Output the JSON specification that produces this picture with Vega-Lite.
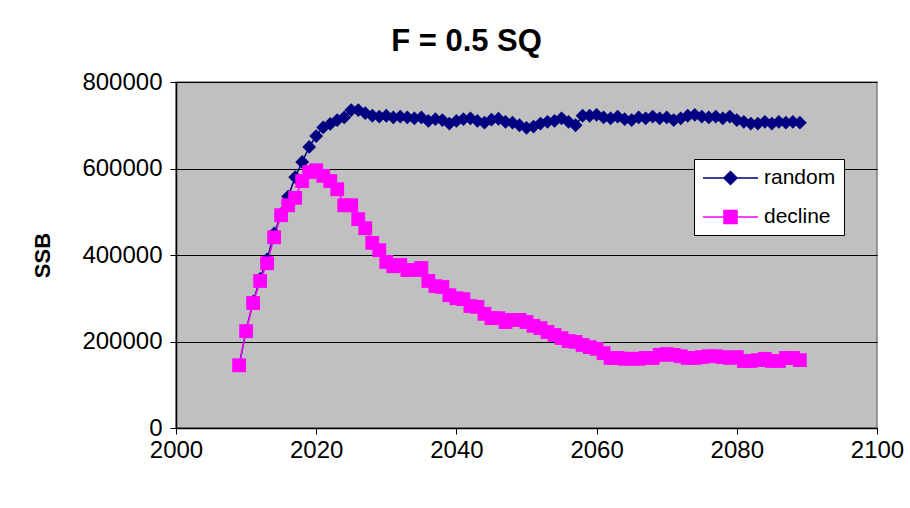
{
  "$schema": "https://vega.github.io/schema/vega-lite/v6.json",
  "width": 701,
  "height": 346,
  "autosize": "none",
  "padding": {"left": 176, "top": 82, "right": 33, "bottom": 80},
  "background": "white",
  "title": {"text": "F = 0.5 SQ", "font": "Liberation Sans", "fontSize": 31, "fontWeight": "bold", "color": "black", "anchor": "middle", "dx": -60, "offset": 12},
  "config": {
    "view": {"fill": "#C0C0C0", "stroke": "#808080", "strokeWidth": 1.5},
    "font": "Liberation Sans"
  },
  "data": {"values": [
    {"year": 2009, "series": "random", "ssb": 145000},
    {"year": 2010, "series": "random", "ssb": 225000},
    {"year": 2011, "series": "random", "ssb": 292000},
    {"year": 2012, "series": "random", "ssb": 345000},
    {"year": 2013, "series": "random", "ssb": 390000},
    {"year": 2014, "series": "random", "ssb": 450000},
    {"year": 2015, "series": "random", "ssb": 495000},
    {"year": 2016, "series": "random", "ssb": 535000},
    {"year": 2017, "series": "random", "ssb": 580000},
    {"year": 2018, "series": "random", "ssb": 615000},
    {"year": 2019, "series": "random", "ssb": 650000},
    {"year": 2020, "series": "random", "ssb": 675000},
    {"year": 2021, "series": "random", "ssb": 695000},
    {"year": 2022, "series": "random", "ssb": 703000},
    {"year": 2023, "series": "random", "ssb": 712000},
    {"year": 2024, "series": "random", "ssb": 718000},
    {"year": 2025, "series": "random", "ssb": 735000},
    {"year": 2026, "series": "random", "ssb": 735000},
    {"year": 2027, "series": "random", "ssb": 728000},
    {"year": 2028, "series": "random", "ssb": 722000},
    {"year": 2029, "series": "random", "ssb": 720000},
    {"year": 2030, "series": "random", "ssb": 722000},
    {"year": 2031, "series": "random", "ssb": 718000},
    {"year": 2032, "series": "random", "ssb": 720000},
    {"year": 2033, "series": "random", "ssb": 718000},
    {"year": 2034, "series": "random", "ssb": 716000},
    {"year": 2035, "series": "random", "ssb": 718000},
    {"year": 2036, "series": "random", "ssb": 710000},
    {"year": 2037, "series": "random", "ssb": 714000},
    {"year": 2038, "series": "random", "ssb": 712000},
    {"year": 2039, "series": "random", "ssb": 704000},
    {"year": 2040, "series": "random", "ssb": 710000},
    {"year": 2041, "series": "random", "ssb": 714000},
    {"year": 2042, "series": "random", "ssb": 716000},
    {"year": 2043, "series": "random", "ssb": 710000},
    {"year": 2044, "series": "random", "ssb": 706000},
    {"year": 2045, "series": "random", "ssb": 713000},
    {"year": 2046, "series": "random", "ssb": 715000},
    {"year": 2047, "series": "random", "ssb": 708000},
    {"year": 2048, "series": "random", "ssb": 706000},
    {"year": 2049, "series": "random", "ssb": 700000},
    {"year": 2050, "series": "random", "ssb": 694000},
    {"year": 2051, "series": "random", "ssb": 697000},
    {"year": 2052, "series": "random", "ssb": 704000},
    {"year": 2053, "series": "random", "ssb": 708000},
    {"year": 2054, "series": "random", "ssb": 710000},
    {"year": 2055, "series": "random", "ssb": 716000},
    {"year": 2056, "series": "random", "ssb": 708000},
    {"year": 2057, "series": "random", "ssb": 700000},
    {"year": 2058, "series": "random", "ssb": 722000},
    {"year": 2059, "series": "random", "ssb": 722000},
    {"year": 2060, "series": "random", "ssb": 724000},
    {"year": 2061, "series": "random", "ssb": 718000},
    {"year": 2062, "series": "random", "ssb": 716000},
    {"year": 2063, "series": "random", "ssb": 720000},
    {"year": 2064, "series": "random", "ssb": 714000},
    {"year": 2065, "series": "random", "ssb": 712000},
    {"year": 2066, "series": "random", "ssb": 718000},
    {"year": 2067, "series": "random", "ssb": 716000},
    {"year": 2068, "series": "random", "ssb": 720000},
    {"year": 2069, "series": "random", "ssb": 716000},
    {"year": 2070, "series": "random", "ssb": 718000},
    {"year": 2071, "series": "random", "ssb": 712000},
    {"year": 2072, "series": "random", "ssb": 716000},
    {"year": 2073, "series": "random", "ssb": 722000},
    {"year": 2074, "series": "random", "ssb": 724000},
    {"year": 2075, "series": "random", "ssb": 720000},
    {"year": 2076, "series": "random", "ssb": 718000},
    {"year": 2077, "series": "random", "ssb": 720000},
    {"year": 2078, "series": "random", "ssb": 716000},
    {"year": 2079, "series": "random", "ssb": 720000},
    {"year": 2080, "series": "random", "ssb": 712000},
    {"year": 2081, "series": "random", "ssb": 708000},
    {"year": 2082, "series": "random", "ssb": 704000},
    {"year": 2083, "series": "random", "ssb": 704000},
    {"year": 2084, "series": "random", "ssb": 708000},
    {"year": 2085, "series": "random", "ssb": 704000},
    {"year": 2086, "series": "random", "ssb": 708000},
    {"year": 2087, "series": "random", "ssb": 706000},
    {"year": 2088, "series": "random", "ssb": 708000},
    {"year": 2089, "series": "random", "ssb": 706000},
    {"year": 2009, "series": "decline", "ssb": 145000},
    {"year": 2010, "series": "decline", "ssb": 224000},
    {"year": 2011, "series": "decline", "ssb": 289000},
    {"year": 2012, "series": "decline", "ssb": 340000},
    {"year": 2013, "series": "decline", "ssb": 381000},
    {"year": 2014, "series": "decline", "ssb": 441000},
    {"year": 2015, "series": "decline", "ssb": 492000},
    {"year": 2016, "series": "decline", "ssb": 515000},
    {"year": 2017, "series": "decline", "ssb": 532000},
    {"year": 2018, "series": "decline", "ssb": 571000},
    {"year": 2019, "series": "decline", "ssb": 592000},
    {"year": 2020, "series": "decline", "ssb": 596000},
    {"year": 2021, "series": "decline", "ssb": 583000},
    {"year": 2022, "series": "decline", "ssb": 571000},
    {"year": 2023, "series": "decline", "ssb": 552000},
    {"year": 2024, "series": "decline", "ssb": 515000},
    {"year": 2025, "series": "decline", "ssb": 515000},
    {"year": 2026, "series": "decline", "ssb": 483000},
    {"year": 2027, "series": "decline", "ssb": 462000},
    {"year": 2028, "series": "decline", "ssb": 428000},
    {"year": 2029, "series": "decline", "ssb": 411000},
    {"year": 2030, "series": "decline", "ssb": 384000},
    {"year": 2031, "series": "decline", "ssb": 374000},
    {"year": 2032, "series": "decline", "ssb": 377000},
    {"year": 2033, "series": "decline", "ssb": 365000},
    {"year": 2034, "series": "decline", "ssb": 365000},
    {"year": 2035, "series": "decline", "ssb": 370000},
    {"year": 2036, "series": "decline", "ssb": 340000},
    {"year": 2037, "series": "decline", "ssb": 328000},
    {"year": 2038, "series": "decline", "ssb": 326000},
    {"year": 2039, "series": "decline", "ssb": 307000},
    {"year": 2040, "series": "decline", "ssb": 300000},
    {"year": 2041, "series": "decline", "ssb": 298000},
    {"year": 2042, "series": "decline", "ssb": 282000},
    {"year": 2043, "series": "decline", "ssb": 280000},
    {"year": 2044, "series": "decline", "ssb": 264000},
    {"year": 2045, "series": "decline", "ssb": 254000},
    {"year": 2046, "series": "decline", "ssb": 254000},
    {"year": 2047, "series": "decline", "ssb": 245000},
    {"year": 2048, "series": "decline", "ssb": 250000},
    {"year": 2049, "series": "decline", "ssb": 250000},
    {"year": 2050, "series": "decline", "ssb": 245000},
    {"year": 2051, "series": "decline", "ssb": 236000},
    {"year": 2052, "series": "decline", "ssb": 231000},
    {"year": 2053, "series": "decline", "ssb": 222000},
    {"year": 2054, "series": "decline", "ssb": 215000},
    {"year": 2055, "series": "decline", "ssb": 208000},
    {"year": 2056, "series": "decline", "ssb": 201000},
    {"year": 2057, "series": "decline", "ssb": 199000},
    {"year": 2058, "series": "decline", "ssb": 192000},
    {"year": 2059, "series": "decline", "ssb": 187000},
    {"year": 2060, "series": "decline", "ssb": 183000},
    {"year": 2061, "series": "decline", "ssb": 173000},
    {"year": 2062, "series": "decline", "ssb": 162000},
    {"year": 2063, "series": "decline", "ssb": 162000},
    {"year": 2064, "series": "decline", "ssb": 160000},
    {"year": 2065, "series": "decline", "ssb": 160000},
    {"year": 2066, "series": "decline", "ssb": 160000},
    {"year": 2067, "series": "decline", "ssb": 162000},
    {"year": 2068, "series": "decline", "ssb": 162000},
    {"year": 2069, "series": "decline", "ssb": 169000},
    {"year": 2070, "series": "decline", "ssb": 171000},
    {"year": 2071, "series": "decline", "ssb": 169000},
    {"year": 2072, "series": "decline", "ssb": 166000},
    {"year": 2073, "series": "decline", "ssb": 162000},
    {"year": 2074, "series": "decline", "ssb": 162000},
    {"year": 2075, "series": "decline", "ssb": 164000},
    {"year": 2076, "series": "decline", "ssb": 166000},
    {"year": 2077, "series": "decline", "ssb": 166000},
    {"year": 2078, "series": "decline", "ssb": 164000},
    {"year": 2079, "series": "decline", "ssb": 162000},
    {"year": 2080, "series": "decline", "ssb": 164000},
    {"year": 2081, "series": "decline", "ssb": 155000},
    {"year": 2082, "series": "decline", "ssb": 155000},
    {"year": 2083, "series": "decline", "ssb": 157000},
    {"year": 2084, "series": "decline", "ssb": 160000},
    {"year": 2085, "series": "decline", "ssb": 155000},
    {"year": 2086, "series": "decline", "ssb": 155000},
    {"year": 2087, "series": "decline", "ssb": 162000},
    {"year": 2088, "series": "decline", "ssb": 162000},
    {"year": 2089, "series": "decline", "ssb": 157000}
  ]},
  "mark": {"type": "line", "strokeWidth": 1.5, "point": {"size": 190, "opacity": 1, "filled": true}},
  "encoding": {
    "x": {"field": "year", "type": "quantitative",
      "scale": {"domain": [2000, 2100], "nice": false, "zero": false},
      "axis": {"title": null, "values": [2000, 2020, 2040, 2060, 2080, 2100], "format": "d", "grid": false, "labelFlush": false,
        "domainColor": "black", "domainWidth": 1.5, "tickColor": "black", "tickSize": 6,
        "labelFontSize": 24, "labelColor": "black", "labelPadding": 4, "labelFont": "Liberation Sans"}},
    "y": {"field": "ssb", "type": "quantitative",
      "scale": {"domain": [0, 800000], "nice": false},
      "axis": {"title": "SSB", "values": [0, 200000, 400000, 600000, 800000], "format": "d",
        "grid": true, "gridColor": "black", "gridWidth": 1, "gridOpacity": 1,
        "domainColor": "black", "domainWidth": 1.5, "tickColor": "black", "tickSize": 6,
        "labelFontSize": 24, "labelColor": "black", "labelPadding": 8, "labelFont": "Liberation Sans",
        "titleFontSize": 22, "titleFontWeight": "bold", "titleColor": "black", "titlePadding": 27, "titleFont": "Liberation Sans"}},
    "color": {"field": "series", "type": "nominal",
      "scale": {"domain": ["random", "decline"], "range": ["#000080", "#FF00FF"]},
      "legend": {"title": null, "orient": "none", "legendX": 518, "legendY": 77,
        "fillColor": "white", "strokeColor": "black", "padding": 8,
        "labelFontSize": 21, "labelColor": "black", "labelFont": "Liberation Sans",
        "symbolSize": 400, "symbolStrokeWidth": 1.5, "rowPadding": 18, "labelOffset": 40,
        "symbolType": "M-1,0H4.5",
        "encode": {"symbols": {"update": {
          "shape": {"signal": "datum.value === 'random' ? 'M-1,0H4.5M1.75,-0.65L2.4,0L1.75,0.65L1.1,0Z' : 'M-1,0H4.5M1.1,-0.65H2.4V0.65H1.1Z'"},
          "fill": {"signal": "datum.value === 'random' ? '#000080' : '#FF00FF'"},
          "stroke": {"signal": "datum.value === 'random' ? '#000080' : '#FF00FF'"},
          "opacity": {"value": 1}}}}}},
    "shape": {"condition": {"test": "datum.series === 'random'", "value": "diamond"}, "value": "square"}
  }
}
